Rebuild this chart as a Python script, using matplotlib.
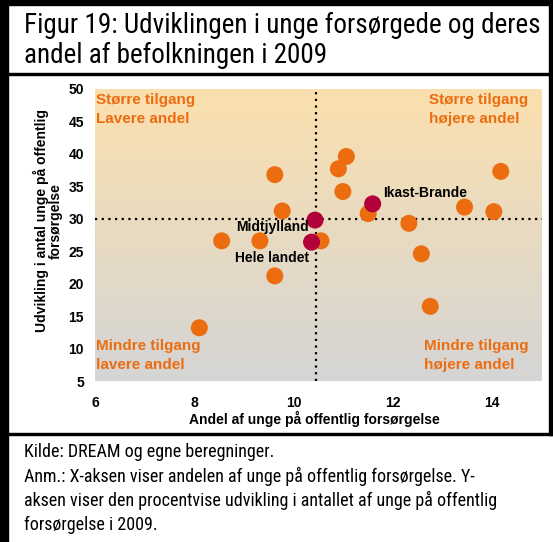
import numpy as np
import matplotlib.pyplot as plt
from matplotlib.patches import Rectangle

# --- data ---
andel_orange = [9.62, 11.06, 10.90, 10.99, 9.77, 11.50, 10.55, 8.55, 9.32, 9.62,
                12.32, 13.44, 14.03, 14.17, 12.57, 12.75, 8.10]
udvikling_orange = [36.8, 39.6, 37.7, 34.2, 31.2, 30.8, 26.6, 26.6, 26.6, 21.2,
                    29.3, 31.8, 31.1, 37.3, 24.6, 16.5, 13.2]

navne = ["Ikast-Brande", "Midtjylland", "Hele landet"]
andel_marked = [11.59, 10.43, 10.36]
udvikling_marked = [32.3, 29.8, 26.4]

x_ticks = [6, 8, 10, 12, 14]
y_ticks = [5, 10, 15, 20, 25, 30, 35, 40, 45, 50]
ref_x = 10.45
ref_y = 30

titel = ["Figur 19: Udviklingen i unge forsørgede og deres",
         "andel af befolkningen i 2009"]
noter = ["Kilde: DREAM og egne beregninger.",
         "Anm.: X-aksen viser andelen af unge på offentlig forsørgelse. Y-",
         "aksen viser den procentvise udvikling i antallet af unge på offentlig",
         "forsørgelse i 2009."]

W, H = 553, 542
fig = plt.figure(figsize=(W / 100, H / 100), dpi=100)
fig.patch.set_facecolor("white")

narrow = ["Roboto Condensed", "Liberation Sans", "DejaVu Sans"]
bold = ["Liberation Sans", "DejaVu Sans"]

# plot area (pixels -> figure fractions)
left, right, top, bottom = 95, 542, 89, 381
ax = fig.add_axes([left / W, 1 - bottom / H, (right - left) / W, (bottom - top) / H])
ax.set_xlim(6, 15)
ax.set_ylim(5, 50)

# background gradient
c_top = np.array([251, 224, 174]) / 255
c_bot = np.array([213, 213, 213]) / 255
t = np.linspace(0, 1, 256)[:, None]
grad = (c_top * (1 - t) + c_bot * t)[:, None, :]
ax.imshow(grad, extent=[6, 15, 5, 50], aspect="auto", origin="upper", zorder=0)

ax.axhline(ref_y, color="black", lw=1.6, ls=(0, (1, 2)), zorder=1)
ax.axvline(ref_x, color="black", lw=1.6, ls=(0, (1, 2)), zorder=1)

ax.scatter(andel_orange, udvikling_orange, s=150, color="#EC6C10", edgecolors="none", zorder=2)
ax.scatter(andel_marked, udvikling_marked, s=150, color="#B2003A", edgecolors="none", zorder=3)

# point labels
lab_kw = dict(fontsize=10, fontweight="bold", family=bold, va="center")
ax.text(11.80, 34.0, navne[0], ha="left", **lab_kw)
ax.text(10.30, 28.7, navne[1], ha="right", **lab_kw)
ax.text(10.32, 24.0, navne[2], ha="right", **lab_kw)

# quadrant labels
q_kw = dict(fontsize=11, fontweight="bold", color="#EC6C10", family=bold, linespacing=1.45)
ax.text(6.03, 49.4, "Større tilgang\nLavere andel", ha="left", va="top", **q_kw)
ax.text(12.72, 49.4, "Større tilgang\nhøjere andel", ha="left", va="top", **q_kw)
ax.text(6.03, 6.4, "Mindre tilgang\nlavere andel", ha="left", va="bottom", **q_kw)
ax.text(12.62, 6.4, "Mindre tilgang\nhøjere andel", ha="left", va="bottom", **q_kw)

ax.set_xticks(x_ticks)
ax.set_yticks(y_ticks)
ax.tick_params(length=0, labelsize=10)
ax.tick_params(axis="x", pad=11)
ax.tick_params(axis="y", pad=8)
for lab in ax.get_xticklabels() + ax.get_yticklabels():
    lab.set_fontweight("bold")
    lab.set_family(bold)
for s in ax.spines.values():
    s.set_visible(False)

fig.text(314 / W, 1 - 419 / H, "Andel af unge på offentlig forsørgelse", ha="center", va="center",
         fontsize=10, fontweight="bold", family=bold)
fig.text(48 / W, 1 - 221 / H, "Udvikling i antal unge på offentlig\nforsørgelse", ha="center",
         va="center", rotation=90, fontsize=10, fontweight="bold", family=bold, linespacing=1.0)

# title and notes
for i, linje in enumerate(titel):
    fig.text(24 / W, 1 - (33 + 30 * i) / H, linje, ha="left", va="baseline",
             fontsize=19.5, family=narrow)
for i, linje in enumerate(noter):
    fig.text(24 / W, 1 - (457 + 24.5 * i) / H, linje, ha="left", va="baseline",
             fontsize=13, family=narrow)

# frame bars
def bar(x0, y0, w, h):
    fig.patches.append(Rectangle((x0 / W, 1 - (y0 + h) / H), w / W, h / H,
                                 transform=fig.transFigure, color="black", zorder=10))

bar(0, 0, 8, H)
bar(0, 0, W, 5)
bar(549, 0, 4, 435)
bar(0, 72.5, W, 2.5)
bar(0, 432.5, W, 2.5)

fig.savefig("out.png", dpi=100)
